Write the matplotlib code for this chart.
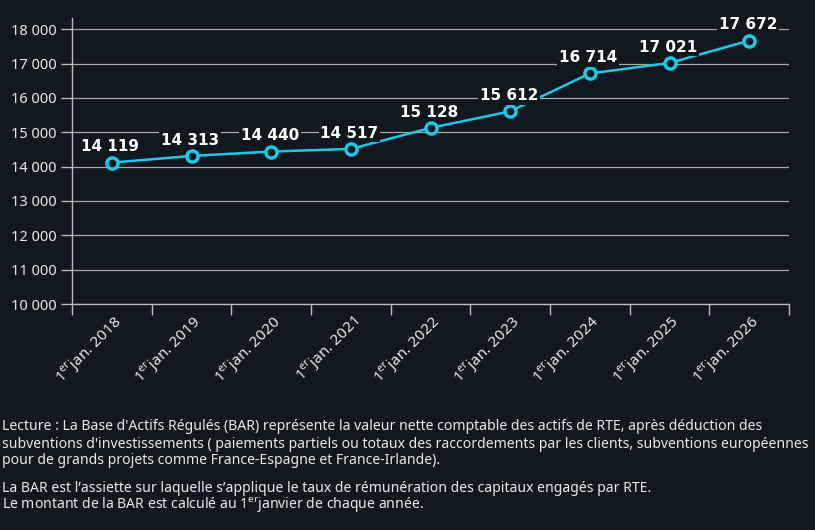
import matplotlib
matplotlib.use('Agg')
import matplotlib.pyplot as plt
import numpy as np

annees = ['2018', '2019', '2020', '2021', '2022', '2023', '2024', '2025', '2026']
bar_valeurs = [14119, 14313, 14440, 14517, 15128, 15612, 16714, 17021, 17672]
y_ticks = [10000, 11000, 12000, 13000, 14000, 15000, 16000, 17000, 18000]

fond = '#11171e'
cyan = '#1cc9e6'
texte = '#e8e8e8'

plt.rcParams['font.family'] = ['Noto Sans', 'DejaVu Sans']
plt.rcParams['mathtext.fontset'] = 'custom'
plt.rcParams['mathtext.rm'] = 'Noto Sans'

def fmt(v):
    return '{:,}'.format(v).replace(',', ' ')

fig = plt.figure(figsize=(8.15, 5.3), dpi=100, facecolor=fond)
ax = fig.add_axes([72 / 815, 1 - 304 / 530, (789 - 72) / 815, (304 - 18) / 530])
ax.set_facecolor(fond)

x = np.arange(len(annees))
ax.plot(x, bar_valeurs, color=cyan, lw=1.8, marker='o', ms=8,
        mfc=fond, mec=cyan, mew=2.5, zorder=3)

for xi, v in zip(x, bar_valeurs):
    ax.annotate(fmt(v), (xi, v), xytext=(-1, 6), textcoords='offset points',
                ha='center', va='bottom', color='white', fontsize=11,
                fontweight='bold', family='DejaVu Sans', zorder=4,
                bbox=dict(boxstyle='square,pad=0.12', fc=fond, ec='none'))

ax.set_xlim(-0.5, len(annees) - 0.5)
ax.set_ylim(10000, 18330)
ax.set_yticks(y_ticks)
ax.set_yticklabels([fmt(t) for t in y_ticks], color=texte, fontsize=10.5)
ax.yaxis.grid(True, color='#a8a8a8', lw=0.9)
ax.set_axisbelow(True)

ax.set_xticks(x)
ax.set_xticklabels([r'1$^{\mathregular{er}}$jan. ' + a for a in annees],
                   rotation=45, ha='right', rotation_mode='anchor',
                   color=texte, fontsize=11)
ax.set_xticks(np.arange(len(annees) + 1) - 0.5, minor=True)
ax.tick_params(axis='x', which='major', length=0, pad=6)
ax.tick_params(axis='x', which='minor', length=8, color='#bbbbbb', width=1)
ax.tick_params(axis='y', length=8, color='#bbbbbb', width=1, pad=3)

for s in ['top', 'right']:
    ax.spines[s].set_visible(False)
for s in ['left', 'bottom']:
    ax.spines[s].set_color('#bbbbbb')
    ax.spines[s].set_linewidth(1)

notes = [
    ("Lecture : La Base d'Actifs Régulés (BAR) représente la valeur nette comptable des actifs de RTE, après déduction des", 427),
    ("subventions d'investissements ( paiements partiels ou totaux des raccordements par les clients, subventions européennes", 444),
    ("pour de grands projets comme France-Espagne et France-Irlande).", 461),
    ("La BAR est l’assiette sur laquelle s’applique le taux de rémunération des capitaux engagés par RTE.", 488),
    (r"Le montant de la BAR est calculé au 1$^{\mathregular{er}}$janvier de chaque année.", 505),
]
for t, y in notes:
    fig.text(2 / 815, 1 - y / 530, t, color=texte, fontsize=10.1, va='center', ha='left')

plt.savefig('out.png', dpi=100, facecolor=fond)
